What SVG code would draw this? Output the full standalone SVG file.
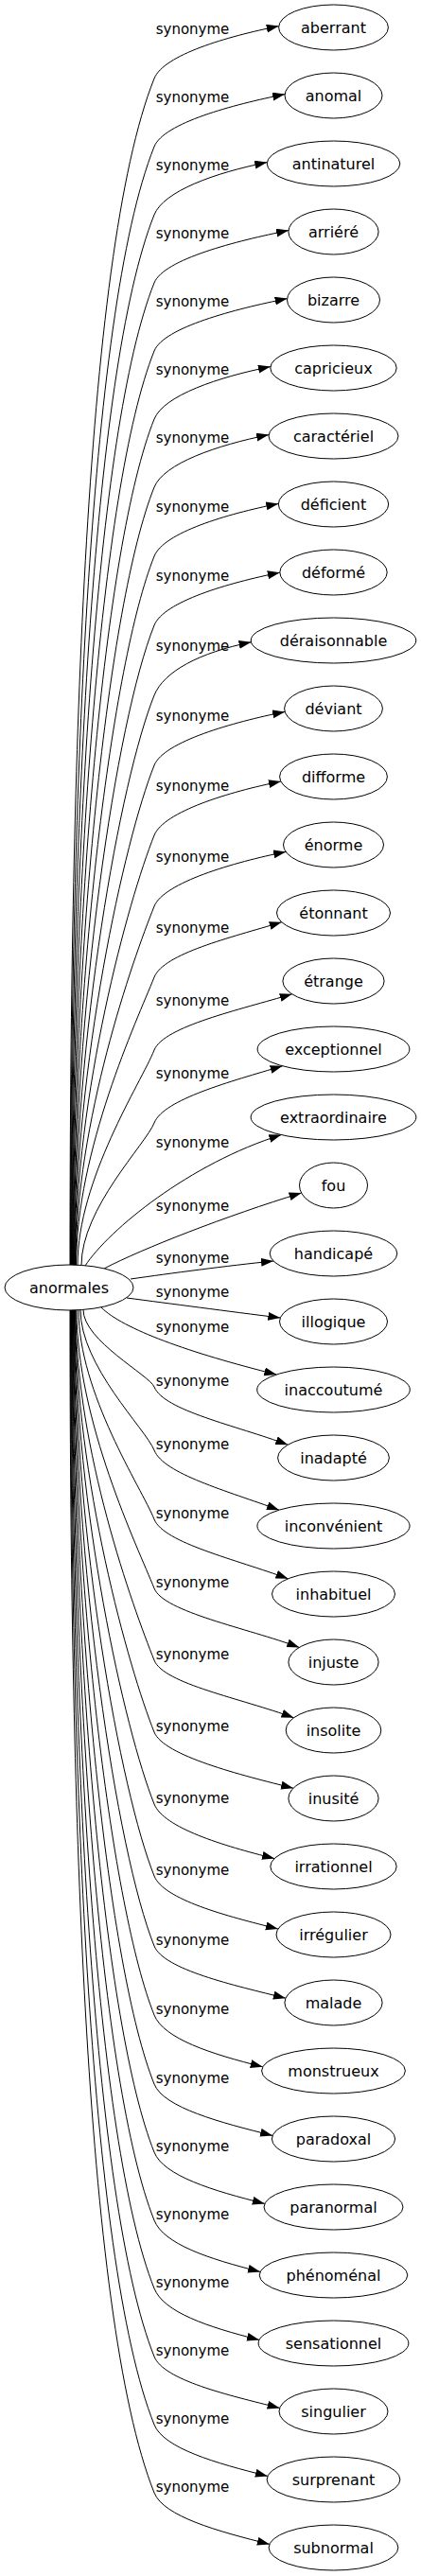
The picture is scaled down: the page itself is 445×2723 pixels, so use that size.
<svg xmlns="http://www.w3.org/2000/svg" width="445" height="2723" viewBox="0 0 445 2723">
<style>
.n ellipse{fill:#fff;stroke:#000;stroke-width:1}
.n text{font-family:"DejaVu Sans",sans-serif;font-size:16px;text-anchor:middle;fill:#000}
.e path{fill:none;stroke:#000;stroke-width:1;marker-end:url(#arr)}
.e text{font-family:"DejaVu Sans",sans-serif;font-size:15px;text-anchor:middle;fill:#000}
</style>
<defs>
<marker id="arr" markerUnits="userSpaceOnUse" markerWidth="14" markerHeight="10" refX="13" refY="4.5" orient="auto"><path d="M0,0 L13,4.5 L0,9 Z" fill="#000"/></marker>
</defs>
<rect width="445" height="2723" fill="#fff"/>
<g id="edges" class="e">
<g id="e0"><path d="M74,1337.5 C74,835.7 87.7,271.2 163,83 C173,58 239.7,38.6 294.7,27.6"/><text x="203.5" y="35.5">synonyme</text></g>
<g id="e1"><path d="M74.5,1337.5 C74.5,864.5 92.1,332.4 163,155 C173,130 246.1,110.6 301.1,99.6"/><text x="203.5" y="107.5">synonyme</text></g>
<g id="e2"><path d="M75,1337.5 C75,893.3 96.4,393.6 163,227 C173,202 227.3,182.6 282.3,171.6"/><text x="203.5" y="179.5">synonyme</text></g>
<g id="e3"><path d="M75.5,1337.5 C75.5,922.1 100.7,454.8 163,299 C173,274 250,254.6 305,243.6"/><text x="203.5" y="251.5">synonyme</text></g>
<g id="e4"><path d="M76,1337.5 C76,950.9 105,516 163,371 C173,346 248.6,326.6 303.6,315.6"/><text x="203.5" y="323.5">synonyme</text></g>
<g id="e5"><path d="M76.5,1337.5 C76.5,979.7 109.3,577.2 163,443 C173,418 230.9,398.6 285.9,387.6"/><text x="203.5" y="395.5">synonyme</text></g>
<g id="e6"><path d="M77,1337.5 C77,1008.5 113.6,638.4 163,515 C173,490 229.1,470.6 284.1,459.6"/><text x="203.5" y="467.5">synonyme</text></g>
<g id="e7"><path d="M77.5,1337.5 C77.5,1037.7 118,700.4 163,588 C173,563 239.3,543.4 294.3,532.4"/><text x="203.5" y="540.5">synonyme</text></g>
<g id="e8"><path d="M78,1337.5 C78,1066.9 122.4,762.5 163,661 C173,636 240.8,616.2 295.8,605.2"/><text x="203.5" y="613.5">synonyme</text></g>
<g id="e9"><path d="M78.5,1337.5 C78.5,1096.5 126.8,825.4 163,735 C173,710 210.5,689.8 265.5,678.8"/><text x="203.5" y="687.5">synonyme</text></g>
<g id="e10"><path d="M79,1337.5 C79,1126.1 131.3,888.3 163,809 C173,784 246.1,763.4 301.1,752.4"/><text x="203.5" y="761.5">synonyme</text></g>
<g id="e11"><path d="M79.5,1337.5 C79.5,1155.7 135.7,951.2 163,883 C173,858 241.9,837 296.9,826"/><text x="203.5" y="835.5">synonyme</text></g>
<g id="e12"><path d="M80,1337.5 C80,1185.7 140.2,1014.9 163,958 C173,933 247.1,911.4 302.1,900.4"/><text x="203.5" y="910.5">synonyme</text></g>
<g id="e13"><path d="M80.5,1337.5 C80.5,1215.7 144.7,1078.7 163,1033 C173,1008 242.7,991.3 297.7,974.8"/><text x="203.5" y="985.5">synonyme</text></g>
<g id="e14"><path d="M82,1337.5 C82,1246.5 149.4,1144.1 163,1110 C173,1085 253.7,1067.3 308.7,1050.8"/><text x="203.5" y="1062.5">synonyme</text></g>
<g id="e15"><path d="M86,1337.5 C86,1277.3 154,1209.6 163,1187 C173,1162 243.6,1143.3 298.6,1126.8"/><text x="203.5" y="1139.5">synonyme</text></g>
<g id="e16"><path d="M90,1338 C115,1300 200,1230 297.3,1199.6"/><text x="203.5" y="1212.5">synonyme</text></g>
<g id="e17"><path d="M110,1341 C150,1320 240,1285 318.6,1261"/><text x="203.5" y="1279.5">synonyme</text></g>
<g id="e18"><path d="M138,1352 C180,1346 240,1338 289,1333"/><text x="203.5" y="1334.5">synonyme</text></g>
<g id="e19"><path d="M134,1372 C180,1378 240,1386 296.3,1393"/><text x="203.5" y="1370.5">synonyme</text></g>
<g id="e20"><path d="M107,1382 C130,1405 200,1430 292.3,1453"/><text x="203.5" y="1407.5">synonyme</text></g>
<g id="e21"><path d="M88,1384.5 C88,1417.1 158.1,1453.8 163,1466 C173,1491 249.3,1506.8 304.3,1527.2"/><text x="203.5" y="1464.5">synonyme</text></g>
<g id="e22"><path d="M85,1384.5 C85,1443.9 154.1,1510.7 163,1533 C173,1558 240,1575.9 295,1596.2"/><text x="203.5" y="1531.5">synonyme</text></g>
<g id="e23"><path d="M83,1384.5 C83,1473.1 149.7,1572.8 163,1606 C173,1631 249.5,1648.4 304.5,1668.8"/><text x="203.5" y="1604.5">synonyme</text></g>
<g id="e24"><path d="M81,1384.5 C81,1502.3 145.3,1634.8 163,1679 C173,1704 261.3,1721 316.3,1741.4"/><text x="203.5" y="1677.5">synonyme</text></g>
<g id="e25"><path d="M80,1384.5 C80,1532.7 140.8,1699.4 163,1755 C173,1780 255.5,1795.4 310.5,1815.8"/><text x="203.5" y="1753.5">synonyme</text></g>
<g id="e26"><path d="M79.5,1384.5 C79.5,1563.1 136.2,1764 163,1831 C173,1856 255,1876.5 310,1890.2"/><text x="203.5" y="1829.5">synonyme</text></g>
<g id="e27"><path d="M79,1384.5 C79,1593.5 131.6,1828.6 163,1907 C173,1932 235,1950.9 290,1964.6"/><text x="203.5" y="1905.5">synonyme</text></g>
<g id="e28"><path d="M78.5,1384.5 C78.5,1623.9 127.1,1893.2 163,1983 C173,2008 238.9,2025.3 293.9,2039"/><text x="203.5" y="1981.5">synonyme</text></g>
<g id="e29"><path d="M78,1384.5 C78,1653.5 122.6,1956.1 163,2057 C173,2082 246.9,2098.5 301.9,2112.2"/><text x="203.5" y="2055.5">synonyme</text></g>
<g id="e30"><path d="M77.5,1384.5 C77.5,1682.7 118.3,2018.2 163,2130 C173,2155 222.7,2171.1 277.7,2184.8"/><text x="203.5" y="2128.5">synonyme</text></g>
<g id="e31"><path d="M77,1384.5 C77,1711.9 113.9,2080.2 163,2203 C173,2228 233.1,2243.7 288.1,2257.4"/><text x="203.5" y="2201.5">synonyme</text></g>
<g id="e32"><path d="M76.5,1384.5 C76.5,1740.7 109.6,2141.4 163,2275 C173,2300 224.8,2315.7 279.8,2329.4"/><text x="203.5" y="2273.5">synonyme</text></g>
<g id="e33"><path d="M76,1384.5 C76,1769.5 105.3,2202.6 163,2347 C173,2372 220.1,2387.7 275.1,2401.4"/><text x="203.5" y="2345.5">synonyme</text></g>
<g id="e34"><path d="M75.5,1384.5 C75.5,1798.3 100.9,2263.8 163,2419 C173,2444 219,2459.7 274,2473.4"/><text x="203.5" y="2417.5">synonyme</text></g>
<g id="e35"><path d="M75,1384.5 C75,1827.1 96.6,2325 163,2491 C173,2516 240.6,2531.7 295.6,2545.4"/><text x="203.5" y="2489.5">synonyme</text></g>
<g id="e36"><path d="M74.5,1384.5 C74.5,1855.9 92.3,2386.2 163,2563 C173,2588 227.9,2603.7 282.9,2617.4"/><text x="203.5" y="2561.5">synonyme</text></g>
<g id="e37"><path d="M74,1384.5 C74,1884.7 88,2447.4 163,2635 C173,2660 229.9,2675.7 284.9,2689.4"/><text x="203.5" y="2633.5">synonyme</text></g>
</g>
<g id="nodes" class="n">
<g id="anormales"><ellipse cx="73" cy="1361" rx="68" ry="24"/><text x="73" y="1366.5">anormales</text></g>
<g id="n0"><ellipse cx="352.5" cy="29" rx="57.9" ry="24"/><text x="352.5" y="34.5">aberrant</text></g>
<g id="n1"><ellipse cx="352.5" cy="101" rx="51.5" ry="24"/><text x="352.5" y="106.5">anomal</text></g>
<g id="n2"><ellipse cx="352.5" cy="173" rx="70.3" ry="24"/><text x="352.5" y="178.5">antinaturel</text></g>
<g id="n3"><ellipse cx="352.5" cy="245" rx="47.6" ry="24"/><text x="352.5" y="250.5">arriéré</text></g>
<g id="n4"><ellipse cx="352.5" cy="317" rx="49" ry="24"/><text x="352.5" y="322.5">bizarre</text></g>
<g id="n5"><ellipse cx="352.5" cy="389" rx="66.7" ry="24"/><text x="352.5" y="394.5">capricieux</text></g>
<g id="n6"><ellipse cx="352.5" cy="461" rx="68.5" ry="24"/><text x="352.5" y="466.5">caractériel</text></g>
<g id="n7"><ellipse cx="352.5" cy="533" rx="58.2" ry="24"/><text x="352.5" y="538.5">déficient</text></g>
<g id="n8"><ellipse cx="352.5" cy="605" rx="56.7" ry="24"/><text x="352.5" y="610.5">déformé</text></g>
<g id="n9"><ellipse cx="352.5" cy="677" rx="87.3" ry="24"/><text x="352.5" y="682.5">déraisonnable</text></g>
<g id="n10"><ellipse cx="352.5" cy="749" rx="51.9" ry="24"/><text x="352.5" y="754.5">déviant</text></g>
<g id="n11"><ellipse cx="352.5" cy="821" rx="56.9" ry="24"/><text x="352.5" y="826.5">difforme</text></g>
<g id="n12"><ellipse cx="352.5" cy="893" rx="53" ry="24"/><text x="352.5" y="898.5">énorme</text></g>
<g id="n13"><ellipse cx="352.5" cy="965" rx="60" ry="24"/><text x="352.5" y="970.5">étonnant</text></g>
<g id="n14"><ellipse cx="352.5" cy="1037" rx="53.6" ry="24"/><text x="352.5" y="1042.5">étrange</text></g>
<g id="n15"><ellipse cx="352.5" cy="1109" rx="80.4" ry="24"/><text x="352.5" y="1114.5">exceptionnel</text></g>
<g id="n16"><ellipse cx="352.5" cy="1181" rx="87.4" ry="24"/><text x="352.5" y="1186.5">extraordinaire</text></g>
<g id="n17"><ellipse cx="352.5" cy="1253" rx="36" ry="24"/><text x="352.5" y="1258.5">fou</text></g>
<g id="n18"><ellipse cx="352.5" cy="1325" rx="67.3" ry="24"/><text x="352.5" y="1330.5">handicapé</text></g>
<g id="n19"><ellipse cx="352.5" cy="1397" rx="57" ry="24"/><text x="352.5" y="1402.5">illogique</text></g>
<g id="n20"><ellipse cx="352.5" cy="1469" rx="80.8" ry="24"/><text x="352.5" y="1474.5">inaccoutumé</text></g>
<g id="n21"><ellipse cx="352.5" cy="1541" rx="58.9" ry="24"/><text x="352.5" y="1546.5">inadapté</text></g>
<g id="n22"><ellipse cx="352.5" cy="1613" rx="80.6" ry="24"/><text x="352.5" y="1618.5">inconvénient</text></g>
<g id="n23"><ellipse cx="352.5" cy="1685" rx="65" ry="24"/><text x="352.5" y="1690.5">inhabituel</text></g>
<g id="n24"><ellipse cx="352.5" cy="1757" rx="47.6" ry="24"/><text x="352.5" y="1762.5">injuste</text></g>
<g id="n25"><ellipse cx="352.5" cy="1829" rx="50.3" ry="24"/><text x="352.5" y="1834.5">insolite</text></g>
<g id="n26"><ellipse cx="352.5" cy="1901" rx="47.6" ry="24"/><text x="352.5" y="1906.5">inusité</text></g>
<g id="n27"><ellipse cx="352.5" cy="1973" rx="66.7" ry="24"/><text x="352.5" y="1978.5">irrationnel</text></g>
<g id="n28"><ellipse cx="352.5" cy="2045" rx="60.5" ry="24"/><text x="352.5" y="2050.5">irrégulier</text></g>
<g id="n29"><ellipse cx="352.5" cy="2117" rx="51.6" ry="24"/><text x="352.5" y="2122.5">malade</text></g>
<g id="n30"><ellipse cx="352.5" cy="2189" rx="75.9" ry="24"/><text x="352.5" y="2194.5">monstrueux</text></g>
<g id="n31"><ellipse cx="352.5" cy="2261" rx="65.1" ry="24"/><text x="352.5" y="2266.5">paradoxal</text></g>
<g id="n32"><ellipse cx="352.5" cy="2333" rx="73.5" ry="24"/><text x="352.5" y="2338.5">paranormal</text></g>
<g id="n33"><ellipse cx="352.5" cy="2405" rx="78.3" ry="24"/><text x="352.5" y="2410.5">phénoménal</text></g>
<g id="n34"><ellipse cx="352.5" cy="2477" rx="79.4" ry="24"/><text x="352.5" y="2482.5">sensationnel</text></g>
<g id="n35"><ellipse cx="352.5" cy="2549" rx="57.5" ry="24"/><text x="352.5" y="2554.5">singulier</text></g>
<g id="n36"><ellipse cx="352.5" cy="2621" rx="70.4" ry="24"/><text x="352.5" y="2626.5">surprenant</text></g>
<g id="n37"><ellipse cx="352.5" cy="2693" rx="68.4" ry="24"/><text x="352.5" y="2698.5">subnormal</text></g>
</g>
</svg>
